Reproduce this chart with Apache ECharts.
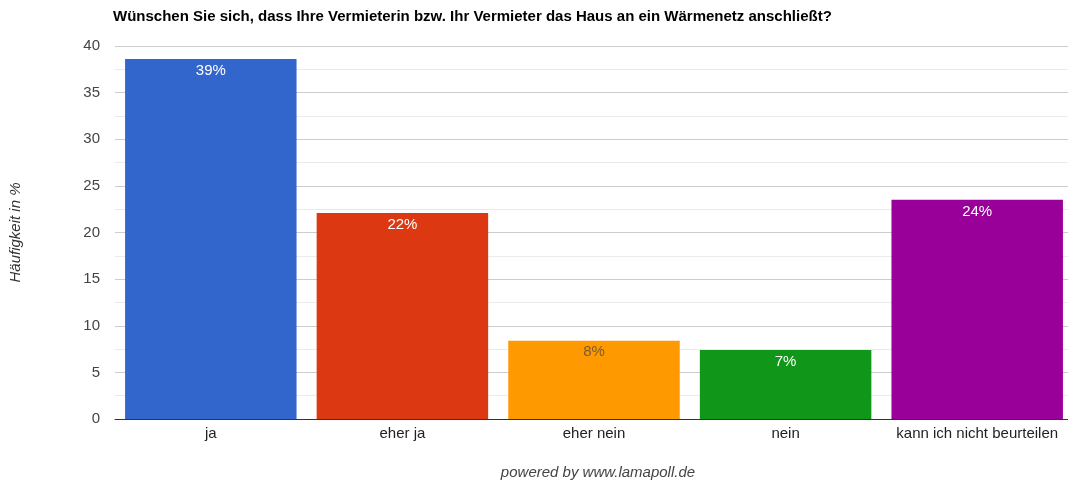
<!DOCTYPE html>
<html>
<head>
<meta charset="utf-8">
<script src="https://cdn.jsdelivr.net/npm/echarts@6/dist/echarts.min.js"></script>
<style>
    html, body { margin: 0; padding: 0; background: #fff; overflow: hidden; }
    #main { width: 1080px; height: 481px; }
</style>
</head>
<body>
<div id="main"></div>
<script>
    var categories = ['ja', 'eher ja', 'eher nein', 'nein', 'kann ich nicht beurteilen'];
    var values = [38.6, 22.1, 8.4, 7.4, 23.5];
    var barColors = ['#3366cc', '#dc3912', '#ff9900', '#109618', '#990099'];
    var labelColors = ['#ffffff', '#ffffff', '#7a5c2e', '#ffffff', '#ffffff'];

    var myChart = echarts.init(document.getElementById('main'));

    var barData = values.map(function (v, i) {
        return {
            value: v,
            itemStyle: { color: barColors[i] },
            label: { color: labelColors[i] }
        };
    });

    var option = {
        animation: false,
        textStyle: { fontFamily: 'Liberation Sans, Arial, sans-serif' },
        title: [{
            text: 'Wünschen Sie sich, dass Ihre Vermieterin bzw. Ihr Vermieter das Haus an ein Wärmenetz anschließt?',
            left: 108,
            top: 4,
            textStyle: { fontSize: 15, fontWeight: 'bold', color: '#000' }
        }, {
            text: 'powered by www.lamapoll.de',
            left: 593,
            textAlign: 'center',
            top: 460,
            textStyle: { fontSize: 15, fontStyle: 'italic', fontWeight: 'normal', color: '#444' }
        }],
        grid: {
            left: 113,
            top: 46,
            width: 960,
            height: 373
        },
        xAxis: {
            type: 'category',
            data: categories,
            axisTick: { show: false },
            axisLine: { lineStyle: { color: '#333', width: 1 } },
            axisLabel: { color: '#222', fontSize: 15, margin: 7, interval: 0 }
        },
        yAxis: {
            type: 'value',
            min: 0,
            max: 40,
            interval: 5,
            name: 'Häufigkeit in %',
            nameLocation: 'middle',
            nameGap: 92,
            nameTextStyle: { fontStyle: 'italic', fontSize: 15, color: '#333' },
            axisLabel: { color: '#444', fontSize: 15, margin: 15 },
            splitLine: { lineStyle: { color: '#cccccc' } },
            minorTick: { show: false, splitNumber: 2 },
            minorSplitLine: { show: true, lineStyle: { color: '#ebebeb' } }
        },
        series: [{
            type: 'bar',
            barCategoryGap: '10.5%',
            data: barData,
            label: {
                show: true,
                position: 'insideTop',
                distance: 4,
                fontSize: 15,
                formatter: function (p) {
                    return Math.round(p.value) + '%';
                }
            }
        }]
    };
    myChart.setOption(option);
</script>
</body>
</html>
